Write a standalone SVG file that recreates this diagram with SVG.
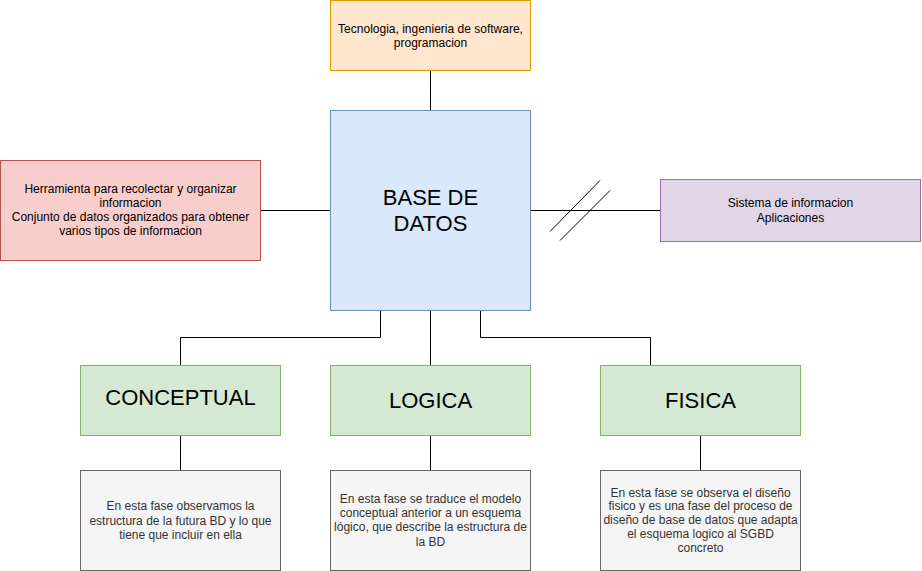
<svg xmlns="http://www.w3.org/2000/svg" width="922" height="571" viewBox="0 0 922 571">
<style>
.t{font-family:"Liberation Sans",Arial,sans-serif;font-size:12px;fill:#000;text-anchor:middle}
.g{fill:#333333}
.b{font-family:"Liberation Sans",Arial,sans-serif;font-size:22px;fill:#000;text-anchor:middle}
.c{fill:none;stroke:#000;stroke-width:1}
.orange{fill:#ffe6cc;stroke:#d79b00}
.blue{fill:#dae8fc;stroke:#6c8ebf}
.red{fill:#f8cecc;stroke:#b85450}
.purple{fill:#e1d5e7;stroke:#9673a6}
.green{fill:#d5e8d4;stroke:#82b366}
.grey{fill:#f5f5f5;stroke:#666666}
</style>
<rect width="922" height="571" fill="#ffffff"/>
<g id="connectors">
<path class="c" d="M430.5 70.5V110.5"/>
<path class="c" d="M260.5 210.5H330.5"/>
<path class="c" d="M530.5 210.5H660.5"/>
<path class="c" d="M550 231.5L600 180.5M560 240.5L610 190.5"/>
<path class="c" d="M380.5 310.5V337.5H180.5V365.5"/>
<path class="c" d="M430.5 310.5V365.5"/>
<path class="c" d="M480.5 310.5V337.5H650.5V365.5"/>
<path class="c" d="M180.5 435.5V470.5"/>
<path class="c" d="M430.5 435.5V470.5"/>
<path class="c" d="M700.5 435.5V470.5"/>
</g>
<g id="top">
<rect class="orange" x="330.5" y="0.5" width="200" height="70"/>
<text class="t" x="430.5" y="32.5">Tecnologia, ingenieria de software,</text>
<text class="t" x="430.5" y="47">programacion</text>
</g>
<g id="center">
<rect class="blue" x="330.5" y="110.5" width="200" height="200"/>
<text class="b" x="430.5" y="204.5">BASE DE</text>
<text class="b" x="430.5" y="230.5">DATOS</text>
</g>
<g id="left">
<rect class="red" x="0.5" y="160.5" width="260" height="100"/>
<text class="t" x="130.5" y="192.5">Herramienta para recolectar y organizar</text>
<text class="t" x="130.5" y="206.5">informacion</text>
<text class="t" x="130.5" y="220.5">Conjunto de datos organizados para obtener</text>
<text class="t" x="130.5" y="235">varios tipos de informacion</text>
</g>
<g id="right">
<rect class="purple" x="660.5" y="179.5" width="260" height="62"/>
<text class="t" x="790.5" y="207">Sistema de informacion</text>
<text class="t" x="790.5" y="221.5">Aplicaciones</text>
</g>
<g id="conceptual">
<rect class="green" x="80.5" y="365.5" width="200" height="70"/>
<text class="b" x="180.5" y="405">CONCEPTUAL</text>
</g>
<g id="logica">
<rect class="green" x="330.5" y="365.5" width="200" height="70"/>
<text class="b" x="430.5" y="407.5">LOGICA</text>
</g>
<g id="fisica">
<rect class="green" x="600.5" y="365.5" width="200" height="70"/>
<text class="b" x="700.5" y="407.5">FISICA</text>
</g>
<g id="desc-conceptual">
<rect class="grey" x="80.5" y="470.5" width="200" height="100"/>
<text class="t g" x="180.5" y="510">En esta fase observamos la</text>
<text class="t g" x="180.5" y="524.5">estructura de la futura BD y lo que</text>
<text class="t g" x="180.5" y="538.5">tiene que incluir en ella</text>
</g>
<g id="desc-logica">
<rect class="grey" x="330.5" y="470.5" width="200" height="100"/>
<text class="t g" x="430.5" y="502.5">En esta fase se traduce el modelo</text>
<text class="t g" x="430.5" y="517">conceptual anterior a un esquema</text>
<text class="t g" x="430.5" y="531">lógico, que describe la estructura de</text>
<text class="t g" x="430.5" y="545.5">la BD</text>
</g>
<g id="desc-fisica">
<rect class="grey" x="600.5" y="470.5" width="200" height="100"/>
<text class="t g" x="700.5" y="496.5">En esta fase se observa el diseño</text>
<text class="t g" x="700.5" y="510">fisico y es una fase del proceso de</text>
<text class="t g" x="700.5" y="523.5">diseño de base de datos que adapta</text>
<text class="t g" x="700.5" y="537.5">el esquema logico al SGBD</text>
<text class="t g" x="700.5" y="552">concreto</text>
</g>
</svg>
